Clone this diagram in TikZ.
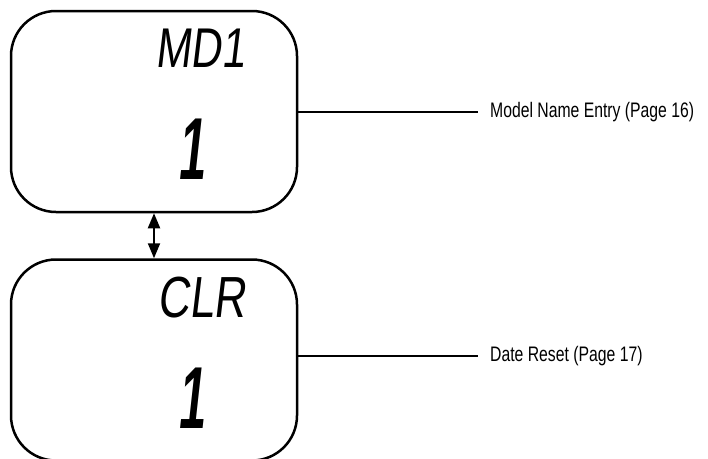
\documentclass[tikz,border=0pt]{standalone}
\usepackage{fontspec}
\setmainfont{Liberation Sans}
\newfontfamily\labfont[FakeStretch=0.75]{Liberation Sans}
\newfontfamily\lcdfont[FakeStretch=0.76,FakeSlant=0.12]{Liberation Sans}
\newfontfamily\bigfont[FakeStretch=0.55,FakeSlant=0.11]{Liberation Sans Bold}
\usetikzlibrary{arrows.meta}
\tikzset{
  lcdbox/.style={draw, line width=2.5pt, rounded corners=45pt, minimum width=286pt, minimum height=201pt, inner sep=0pt},
  lcdtext/.style={inner sep=0pt, anchor=base west, font=\lcdfont\fontsize{56}{60}\selectfont},
  bigdigit/.style={inner sep=0pt, anchor=base, font=\bigfont\fontsize{88}{90}\selectfont},
  menulabel/.style={inner sep=0pt, anchor=west, font=\labfont\fontsize{21}{24}\selectfont},
  leader/.style={line width=2pt},
  toggle/.style={line width=2pt, {Triangle[length=15pt,width=12pt]}-{Triangle[length=15pt,width=12pt]}}
}
\begin{document}
\begin{tikzpicture}[x=1pt,y=-1pt]
\useasboundingbox (0,0) rectangle (708,458);
\node[lcdbox] (box1) at (154,111.5) {};
\node[lcdbox] (box2) at (154,360) {};
\node[lcdtext] (mdi) at (155,67) {MD1};
\node[lcdtext, font=\lcdfont\fontsize{58}{60}\selectfont] (clr) at (157,317) {CLR};
\node[bigdigit] (one1) at (191,179) {1};
\node[bigdigit] (one2) at (191,428) {1};
\node[menulabel] (lab1) at (490,112) {Model Name Entry (Page 16)};
\node[menulabel] (lab2) at (490,356) {Date Reset (Page 17)};
\coordinate (e1) at ([xshift=-12pt]lab1.west);
\coordinate (e2) at ([xshift=-12pt]lab2.west);
\draw[leader] (e1 -| box1.east) -- (e1);
\draw[leader] (e2 -| box2.east) -- (e2);
\draw[toggle] (box1.south) -- (box2.north);
\end{tikzpicture}
\end{document}
